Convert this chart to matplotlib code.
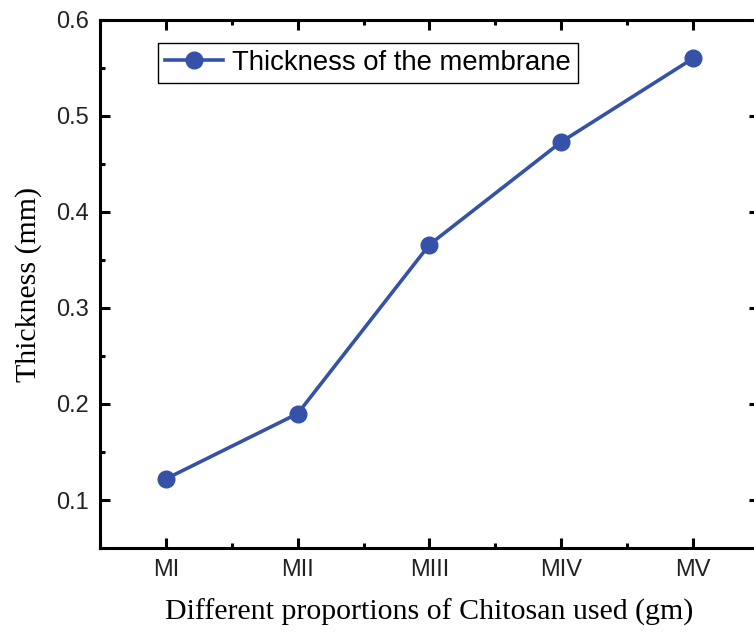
import matplotlib.pyplot as plt
from matplotlib.ticker import MultipleLocator, AutoMinorLocator

samples = ['MI', 'MII', 'MIII', 'MIV', 'MV']
thickness = [0.122, 0.190, 0.366, 0.473, 0.560]
xpos = [1, 2, 3, 4, 5]

blue = '#3552a8'

fig = plt.figure(figsize=(7.54, 6.32), dpi=100)
ax = fig.add_axes([0.1326, 0.1329, 0.874, 0.8355])

ax.plot(xpos, thickness, '-o', color=blue, lw=2.6, markersize=12,
        label='Thickness of the membrane')

ax.set_xlim(0.5, 5.5)
ax.set_ylim(0.05, 0.6)
ax.set_xticks(xpos)
ax.set_xticklabels(samples)
ax.xaxis.set_minor_locator(AutoMinorLocator(2))
ax.yaxis.set_major_locator(MultipleLocator(0.1))
ax.yaxis.set_minor_locator(AutoMinorLocator(2))

for s in ax.spines.values():
    s.set_linewidth(2.2)
ax.tick_params(which='both', direction='in', top=True, right=True, width=2.2,
               labelcolor='#222222')
ax.tick_params(which='major', length=7, labelsize=17, pad=8)
ax.tick_params(which='minor', length=3.5)
for lbl in ax.get_xticklabels() + ax.get_yticklabels():
    lbl.set_family('Liberation Sans')

ax.set_xlabel('Different proportions of Chitosan used (gm)',
              family='Liberation Serif', fontsize=21.5, labelpad=13)
ax.set_ylabel('Thickness (mm)', family='Liberation Serif', fontsize=21.5, labelpad=10)

leg = ax.legend(loc='upper left', bbox_to_anchor=(0.088, 0.956), borderaxespad=0,
                fancybox=False, edgecolor='black', framealpha=1, borderpad=0.25,
                handlelength=2.1, handletextpad=0.35,
                prop={'family': 'Liberation Sans', 'size': 19.8})
leg.get_frame().set_linewidth(1.0)

fig.savefig('out.png', dpi=100)
